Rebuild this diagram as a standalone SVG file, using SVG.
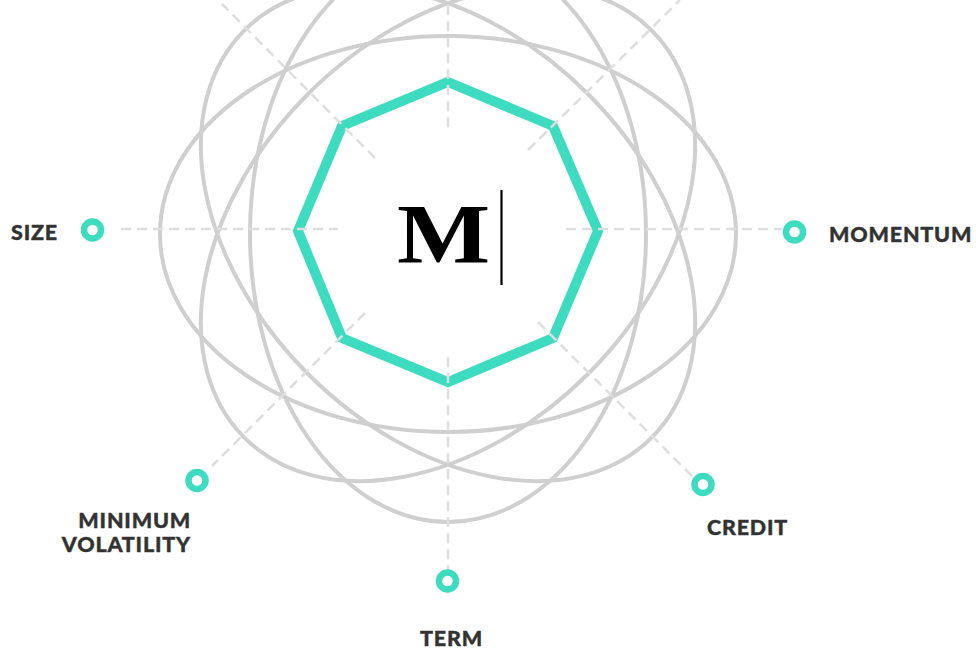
<svg xmlns="http://www.w3.org/2000/svg" width="976" height="650" viewBox="0 0 976 650">
<style>
.orbit{fill:none;stroke:#cfcfcf;stroke-width:4}
.spoke{fill:none;stroke:#dedede;stroke-width:2.500;stroke-dasharray:10 6}
.dot{fill:#fff;stroke:#3ddcc0;stroke-width:6.500}
.label{font-family:"Lato","Liberation Sans",sans-serif;font-weight:900;font-size:21.500px;fill:#333;stroke:#333;stroke-width:.4px;letter-spacing:.8px}
</style>
<rect width="976" height="650" fill="#fff"/>
<g id="orbits">
<ellipse class="orbit" cx="448" cy="234" rx="288" ry="198"/>
<ellipse class="orbit" cx="448" cy="234" rx="198" ry="288"/>
<ellipse class="orbit" cx="448" cy="234" rx="288" ry="198" transform="rotate(45 448 234)"/>
<ellipse class="orbit" cx="448" cy="234" rx="288" ry="198" transform="rotate(-45 448 234)"/>
</g>
<g id="center">
<polygon points="448,82 553,126 598,231 553,338 448,382 342,338 298,231 342,126" fill="none" stroke="#3ddcc0" stroke-width="10"/>
<text transform="translate(397 262.500) scale(1.175 1)" font-family="'Liberation Serif',serif" font-weight="700" font-size="84" fill="#000">M</text>
<path d="M501.500 190V285" stroke="#000" stroke-width="2.200" fill="none"/>
</g>
<g id="connectors">
<path class="spoke" d="M121 229H338"/>
<path class="spoke" d="M566 229H782"/>
<path class="spoke" d="M448 127V0"/>
<path class="spoke" d="M448 357V570"/>
<path class="spoke" d="M375 158L222 4"/>
<path class="spoke" d="M528 150L680 0"/>
<path class="spoke" d="M365 313L212 466"/>
<path class="spoke" d="M538 322L692 476"/>
</g>
<g id="size"><circle class="dot" cx="92.500" cy="230" r="8.500"/><text class="label" x="11" y="240" letter-spacing="1.300">SIZE</text></g>
<g id="momentum"><circle class="dot" cx="794.500" cy="232" r="8.500"/><text class="label" x="829" y="242">MOMENTUM</text></g>
<g id="minimum-volatility"><circle class="dot" cx="197" cy="480.500" r="8.500"/><text class="label" x="191" y="528" text-anchor="end">MINIMUM</text><text class="label" x="191" y="552" text-anchor="end">VOLATILITY</text></g>
<g id="credit"><circle class="dot" cx="703" cy="484.500" r="8.500"/><text class="label" x="707" y="534.500">CREDIT</text></g>
<g id="term"><circle class="dot" cx="447.500" cy="581" r="8.500"/><text class="label" x="420" y="646">TERM</text></g>
</svg>
